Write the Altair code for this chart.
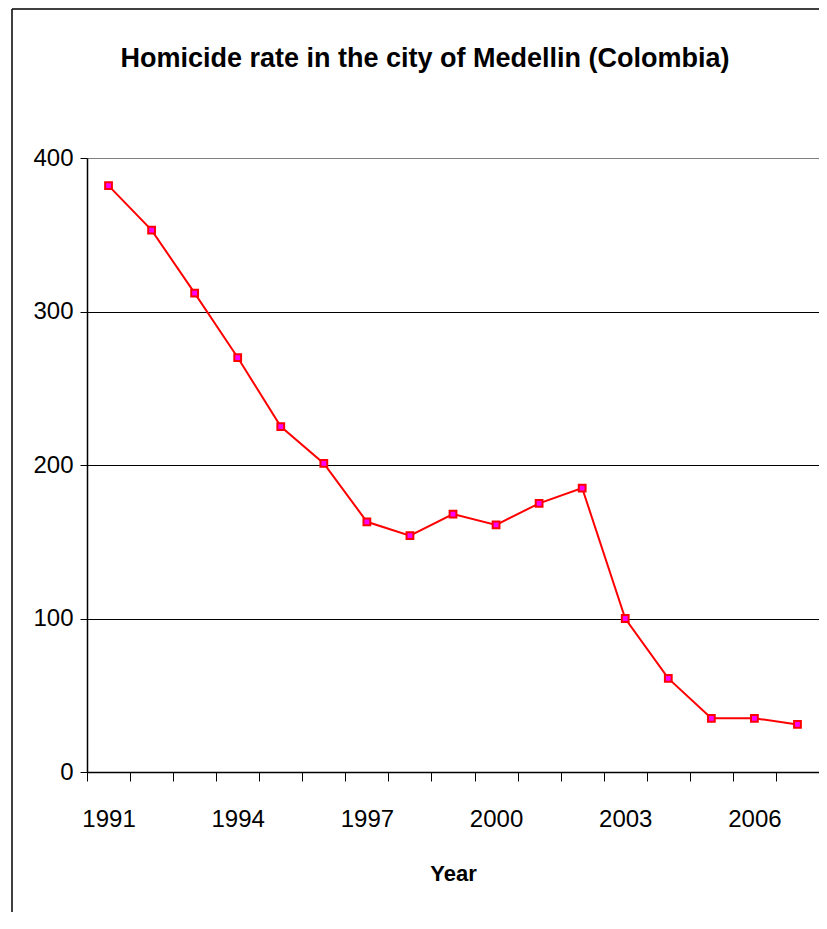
import altair as alt
import pandas as pd

years = list(range(1991, 2008))
rates = [382, 353, 312, 270, 225, 201, 163, 154, 168, 161, 175, 185, 100, 61, 35, 35, 31]
title_text = ["Homicide rate in the city of Medellin (Colombia)"]

df = pd.DataFrame({"Year": years, "Rate": rates})

FONT = "Liberation Sans, Arial, sans-serif"
W, H = 732, 614

x_enc = alt.X(
    "Year:O",
    scale=alt.Scale(type="band", paddingInner=0, paddingOuter=0),
    axis=alt.Axis(
        title="Year",
        labelAngle=0,
        tickBand="extent",
        labelExpr="(datum.value - 1991) % 3 == 0 ? datum.label : ''",
        labelFont=FONT,
        labelFontSize=24,
        labelColor="black",
        labelPadding=26,
        tickColor="black",
        tickSize=9,
        domainColor="black",
        domainWidth=1.5,
        titleFont=FONT,
        titleFontSize=22,
        titleFontWeight="bold",
        titleColor="black",
        titlePadding=32,
        grid=False,
    ),
)

y_enc = alt.Y(
    "Rate:Q",
    scale=alt.Scale(domain=[0, 400], nice=False),
    axis=alt.Axis(
        title=None,
        values=[0, 100, 200, 300, 400],
        labelFont=FONT,
        labelFontSize=24,
        labelColor="black",
        labelPadding=7,
        tickColor="black",
        tickSize=7,
        domainColor="black",
        domainWidth=1.5,
        grid=True,
        gridColor={"expr": "datum.value >= 400 ? '#808080' : 'black'"},
        gridWidth=1,
        gridOpacity=1,
    ),
)

line = alt.Chart(df).mark_line(color="#FF0000", strokeWidth=2).encode(x=x_enc, y=y_enc)
pts = alt.Chart(df).mark_point(
    shape="square", filled=True, fill="#FF00FF", stroke="#FF0000",
    strokeWidth=2, size=46, opacity=1
).encode(x=x_enc, y=y_enc)

title_df = pd.DataFrame({"t": title_text})
title = alt.Chart(title_df).mark_text(
    font=FONT, fontSize=27, fontWeight="bold", color="black",
    align="center", baseline="alphabetic"
).encode(text="t:N", x=alt.value(W / 2 - 28), y=alt.value(-91))

border = alt.Chart(title_df).mark_rule(color="black", strokeWidth=1.5).encode(
    x=alt.value(-75), x2=alt.value(-75), y=alt.value(-149), y2=alt.value(H + 140)
)
border_top = alt.Chart(title_df).mark_rule(color="black", strokeWidth=1.5).encode(
    x=alt.value(-75), x2=alt.value(W), y=alt.value(-149), y2=alt.value(-149)
)

chart = alt.layer(line, pts, title, border, border_top).properties(
    width=W,
    height=H,
    autosize=alt.AutoSizeParams(type="none"),
    padding={"left": 79, "top": 150, "right": 0, "bottom": 140},
).configure_view(
    stroke="#808080", strokeWidth=2
).configure(background="white")

chart.save("out.html", embed_options={"renderer": "svg", "actions": False})
